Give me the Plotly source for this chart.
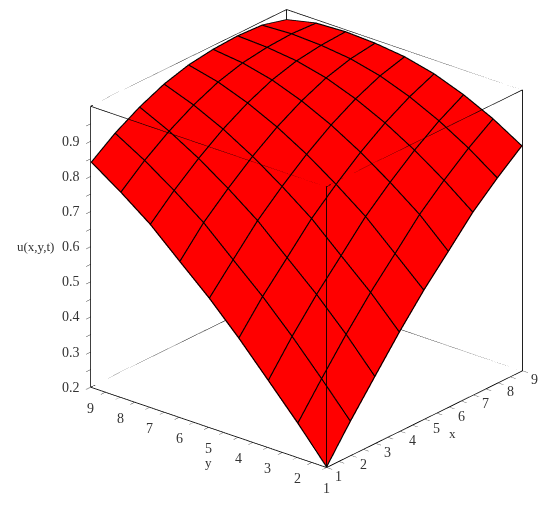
import plotly.graph_objects as go

x_vals = [1, 2, 3, 4, 5, 6, 7, 8, 9]
y_vals = [1, 2, 3, 4, 5, 6, 7, 8, 9]
# rows: y = 1..9, columns: x = 1..9
u_vals = [
    [0.200, 0.297, 0.390, 0.482, 0.567, 0.643, 0.720, 0.783, 0.840],
    [0.297, 0.390, 0.482, 0.567, 0.643, 0.720, 0.783, 0.840, 0.889],
    [0.390, 0.482, 0.567, 0.643, 0.720, 0.783, 0.840, 0.889, 0.929],
    [0.482, 0.567, 0.643, 0.720, 0.783, 0.840, 0.889, 0.929, 0.960],
    [0.567, 0.643, 0.720, 0.783, 0.840, 0.889, 0.929, 0.960, 0.980],
    [0.643, 0.720, 0.783, 0.840, 0.889, 0.929, 0.960, 0.980, 0.990],
    [0.720, 0.783, 0.840, 0.889, 0.929, 0.960, 0.980, 0.990, 0.994],
    [0.783, 0.840, 0.889, 0.929, 0.960, 0.980, 0.990, 0.994, 0.990],
    [0.840, 0.889, 0.929, 0.960, 0.980, 0.990, 0.994, 0.990, 0.971],
]
xy_ticks = [1, 1.5, 2, 2.5, 3, 3.5, 4, 4.5, 5, 5.5, 6, 6.5, 7, 7.5, 8, 8.5, 9]
z_ticks = [0.2, 0.25, 0.3, 0.35, 0.4, 0.45, 0.5, 0.55, 0.6, 0.65, 0.7, 0.75, 0.8, 0.85, 0.9, 0.95]
z_labels = [0.2, 0.3, 0.4, 0.5, 0.6, 0.7, 0.8, 0.9]
x_range = [1, 9]
y_range = [1, 9]
z_range = [0.2, 1.0]

FONT = "Liberation Serif"
n = len(x_vals)
# grid lines sit a hair toward the viewer so the panels do not cover them
LIFT_X, LIFT_Y, LIFT_Z = -0.03, -0.025, 0.0017

# flat quadrilateral panels, as in the original polygon mesh
mx, my, mz, ti, tj, tk = [], [], [], [], [], []
for r, yv in enumerate(y_vals):
    for c, xv in enumerate(x_vals):
        mx.append(xv); my.append(yv); mz.append(u_vals[r][c])
for r in range(n - 1):
    for c in range(n - 1):
        a = r * n + c
        ti += [a, a + 1]; tj += [a + 1, a + 1 + n]; tk += [a + n, a + n]

fig = go.Figure(go.Mesh3d(
    x=mx, y=my, z=mz, i=ti, j=tj, k=tk, color="#ff0000", flatshading=True,
    lighting=dict(ambient=1, diffuse=0, specular=0, roughness=1, fresnel=0),
    hoverinfo="skip",
))

grid = dict(mode="lines", line=dict(color="black", width=2.3), hoverinfo="skip", showlegend=False)
for r, yv in enumerate(y_vals):
    fig.add_trace(go.Scatter3d(
        x=[max(v + LIFT_X, x_range[0]) for v in x_vals],
        y=[max(yv + LIFT_Y, y_range[0])] * n,
        z=[v + LIFT_Z for v in u_vals[r]], **grid))
for c, xv in enumerate(x_vals):
    fig.add_trace(go.Scatter3d(
        x=[max(xv + LIFT_X, x_range[0])] * n,
        y=[max(v + LIFT_Y, y_range[0]) for v in y_vals],
        z=[row[c] + LIFT_Z for row in u_vals], **grid))

# bounding box
x0, x1 = x_range
y0, y1 = y_range
z0, z1 = z_range
box_edges = [
    ((x0, y0, z0), (x1, y0, z0)), ((x0, y1, z0), (x1, y1, z0)),
    ((x0, y0, z1), (x1, y0, z1)), ((x0, y1, z1), (x1, y1, z1)),
    ((x0, y0, z0), (x0, y1, z0)), ((x1, y0, z0), (x1, y1, z0)),
    ((x0, y0, z1), (x0, y1, z1)), ((x1, y0, z1), (x1, y1, z1)),
    ((x0, y0, z0), (x0, y0, z1)), ((x1, y0, z0), (x1, y0, z1)),
    ((x0, y1, z0), (x0, y1, z1)), ((x1, y1, z0), (x1, y1, z1)),
]
for a, b in box_edges:
    fig.add_trace(go.Scatter3d(
        x=[a[0], b[0]], y=[a[1], b[1]], z=[a[2], b[2]], mode="lines",
        line=dict(color="black", width=1.6), hoverinfo="skip", showlegend=False,
    ))

def axis(vals, rng):
    return dict(
        title=dict(text=""),
        range=rng, tickmode="array", tickvals=vals, showticklabels=False,
        ticks="outside", ticklen=7, tickwidth=1, tickcolor="#333",
        showline=False, showgrid=False, zeroline=False,
        showbackground=False, showspikes=False,
    )

def note(x, y, z, text, dx, dy, size=14):
    return dict(x=x, y=y, z=z, text=text, showarrow=False, xshift=dx, yshift=dy,
                xanchor="center", yanchor="middle",
                font=dict(family=FONT, size=size, color="#333"))

notes = []
for v in x_vals:
    notes.append(note(v, y0, z0, str(v), 12, -9))
for v in y_vals:
    notes.append(note(x0, v, z0, str(v), 0, -21))
for v in z_labels:
    notes.append(note(x0, y1, v, str(v), -20, 0))
notes.append(note(x0, y1, 0.6, "u(x,y,t)", -55, 0, 13))
notes.append(note(5, y0, z0, "x", 28, -14, 13))
notes.append(note(x0, 5, z0, "y", 0, -35, 13))

fig.update_layout(
    width=550, height=507, margin=dict(l=0, r=0, t=0, b=0),
    paper_bgcolor="white", showlegend=False,
    scene=dict(
        xaxis=axis(xy_ticks, x_range),
        yaxis=axis(xy_ticks, y_range),
        zaxis=axis(z_ticks, z_range),
        annotations=notes,
        aspectmode="manual", aspectratio=dict(x=1.21, y=1.21, z=1.215),
        camera=dict(
            projection=dict(type="orthographic"),
            eye=dict(x=-1.351, y=-1.001, z=0.655),
            center=dict(x=-0.0877, y=0.0481, z=-0.0829),
            up=dict(x=0, y=0, z=1),
        ),
        domain=dict(x=[0, 1], y=[0, 1]),
    ),
)
fig.write_html("out.html")
